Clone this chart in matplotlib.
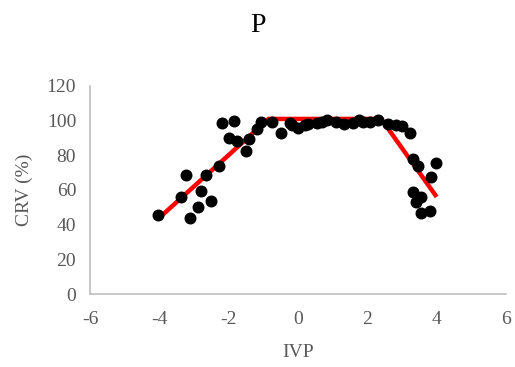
import matplotlib
matplotlib.use("Agg")
import matplotlib.pyplot as plt

# ------------------------------------------------------------
# Data
# ------------------------------------------------------------
ivp = [-4.03, -3.37, -3.24, -2.65, -2.27, -2.81, -2.52, -2.88, -3.11,
       -2.18, -1.84, -2.00, -1.77, -1.50, -1.41, -1.19, -1.07, -0.76,
       -0.50, -0.23, -0.18, -0.01, 0.20, 0.30, 0.54, 0.68, 0.83, 1.09,
       1.34, 1.60, 1.77, 1.88, 2.07, 2.31, 2.60, 2.84, 3.01, 3.24,
       3.32, 3.47, 3.98, 3.85, 3.32, 3.56, 3.39, 3.54, 3.80]
crv = [45.6, 56.2, 68.8, 68.8, 73.9, 59.4, 53.5, 50.2, 43.9,
       98.5, 100.0, 89.8, 88.5, 82.7, 89.2, 95.0, 99.0, 99.0,
       92.7, 98.9, 97.5, 95.6, 97.5, 97.9, 98.5, 99.4, 100.4, 99.3,
       97.9, 98.5, 100.4, 99.4, 99.0, 100.4, 97.9, 97.5, 96.9, 92.7,
       77.9, 73.9, 75.4, 67.3, 59.0, 55.8, 53.3, 46.6, 47.9]

# piecewise fit (red line)
fit_x = [-4.0, -0.85, 2.4, 4.0]
fit_y = [44.0, 101.0, 101.0, 56.0]

x_ticks = [-6, -4, -2, 0, 2, 4, 6]
y_ticks = [0, 20, 40, 60, 80, 100, 120]

# ------------------------------------------------------------
# Plot
# ------------------------------------------------------------
plt.rcParams["font.family"] = ["Liberation Serif", "DejaVu Serif"]
plt.rcParams["axes.unicode_minus"] = False   # plain hyphen like Excel

fig = plt.figure(figsize=(5.15, 3.67), dpi=100)
ax = fig.add_axes([0.1748, 0.1989, 0.8077, 0.5668])

ax.plot(fit_x, fit_y, color="red", linewidth=3.2, solid_capstyle="butt", zorder=2)
ax.scatter(ivp, crv, s=58, color="black", zorder=3)

ax.set_xlim(-6, 6)
ax.set_ylim(0, 120)
ax.set_xticks(x_ticks)
ax.set_yticks(y_ticks)

grey = "#595959"
ax.tick_params(length=0, labelsize=14, colors=grey, pad=10)
ax.tick_params(axis="x", pad=12)
ax.set_xlabel("IVP", fontsize=14, color=grey, labelpad=12)
ax.set_ylabel("CRV (%)", fontsize=14, color=grey, labelpad=10)
fig.suptitle("P", fontsize=20, y=0.965)

for side in ["top", "right"]:
    ax.spines[side].set_visible(False)
for side in ["left", "bottom"]:
    ax.spines[side].set_color("#bfbfbf")
    ax.spines[side].set_linewidth(1.2)

fig.savefig("out.png", dpi=100)
